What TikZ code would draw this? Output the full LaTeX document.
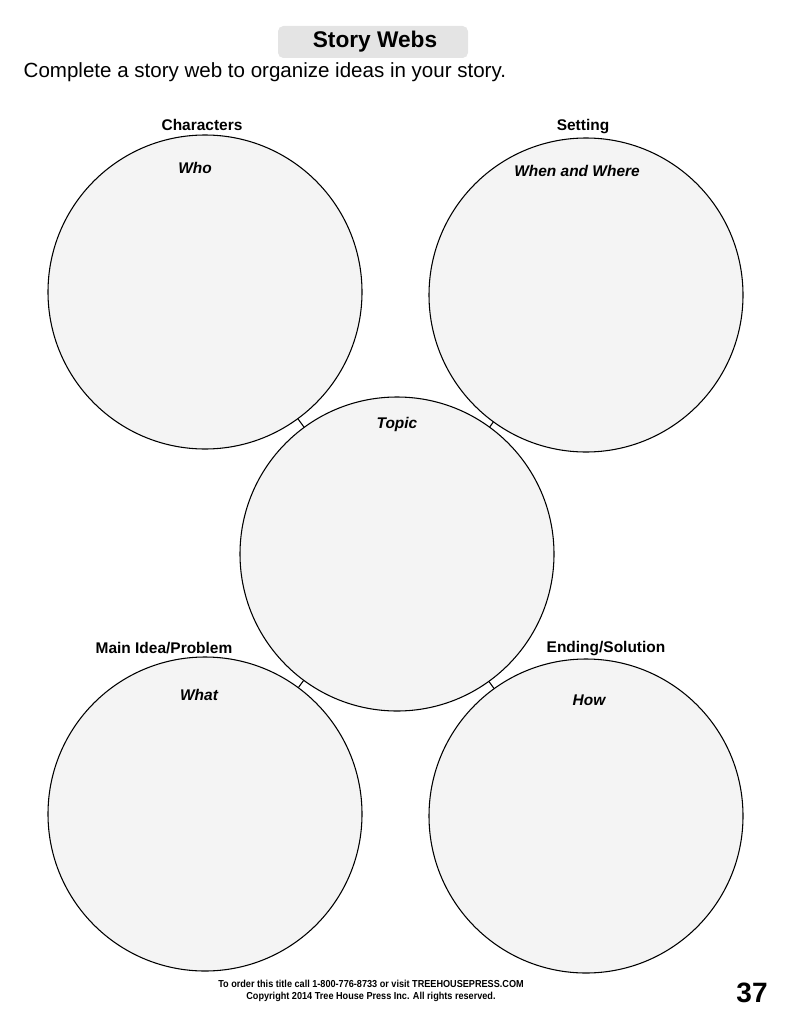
\documentclass[tikz,border=0pt]{standalone}
\usepackage{fontspec}
\setmainfont{Liberation Sans}
\usetikzlibrary{positioning}
\definecolor{webfill}{HTML}{F4F4F4}
\definecolor{titlefill}{HTML}{E4E4E4}
\tikzset{
  web/.style={circle,draw=black,line width=0.8pt,fill=webfill,minimum size=235.5pt,inner sep=0pt},
  head/.style={font=\fontsize{11.6}{13}\selectfont\bfseries},
  ask/.style={font=\fontsize{11.6}{13}\selectfont\bfseries\itshape},
  foot/.style={font=\fontsize{7.6}{8.5}\selectfont\bfseries,align=center,xscale=0.9,transform shape}
}
\begin{document}
\begin{tikzpicture}[x=0.75pt,y=-0.75pt,line join=round,line cap=round]
	\useasboundingbox (0,0) rectangle (791,1024);
	% title
	\fill[titlefill,rounded corners=4pt] (278,26) rectangle (468,58);
	\node[font=\fontsize{17}{20}\selectfont\bfseries] (title) at (375,42) {Story Webs};
	\node[anchor=west,font=\fontsize{15.4}{18}\selectfont] (intro) at (19,72) {Complete a story web to organize ideas in your story.};
	% circles
	\node[web] (who) at (205,292) {};
	\node[web] (where) at (586,295) {};
	\node[web] (topic) at (397,554) {};
	\node[web] (what) at (205,814) {};
	\node[web] (how) at (586,816) {};
	% links
	\draw[line width=0.8pt] (who)--(topic);
	\draw[line width=0.8pt] (where)--(topic);
	\draw[line width=0.8pt] (what)--(topic);
	\draw[line width=0.8pt] (how)--(topic);
	% labels
	\node[head] (chars) at (202,125) {Characters};
	\node[head] (setting) at (583,127) {Setting};
	\node[head] (problem) at (164,648) {Main Idea/Problem};
	\node[head] (solution) at (606,649) {Ending/Solution};
	\node[ask] (whoq) at (195,168) {Who};
	\node[ask] (whereq) at (577,171) {When and Where};
	\node[ask] (topicq) at (397,424) {Topic};
	\node[ask] (whatq) at (199,695) {What};
	\node[ask] (howq) at (589,700) {How};
	% footer
	\node[foot] (order) at (371,991) {To order this title call 1-800-776-8733 or visit TREEHOUSEPRESS.COM\\Copyright 2014 Tree House Press Inc. All rights reserved.};
	\node[font=\fontsize{21}{24}\selectfont\bfseries] (page) at (752,993) {37};
\end{tikzpicture}
\end{document}
